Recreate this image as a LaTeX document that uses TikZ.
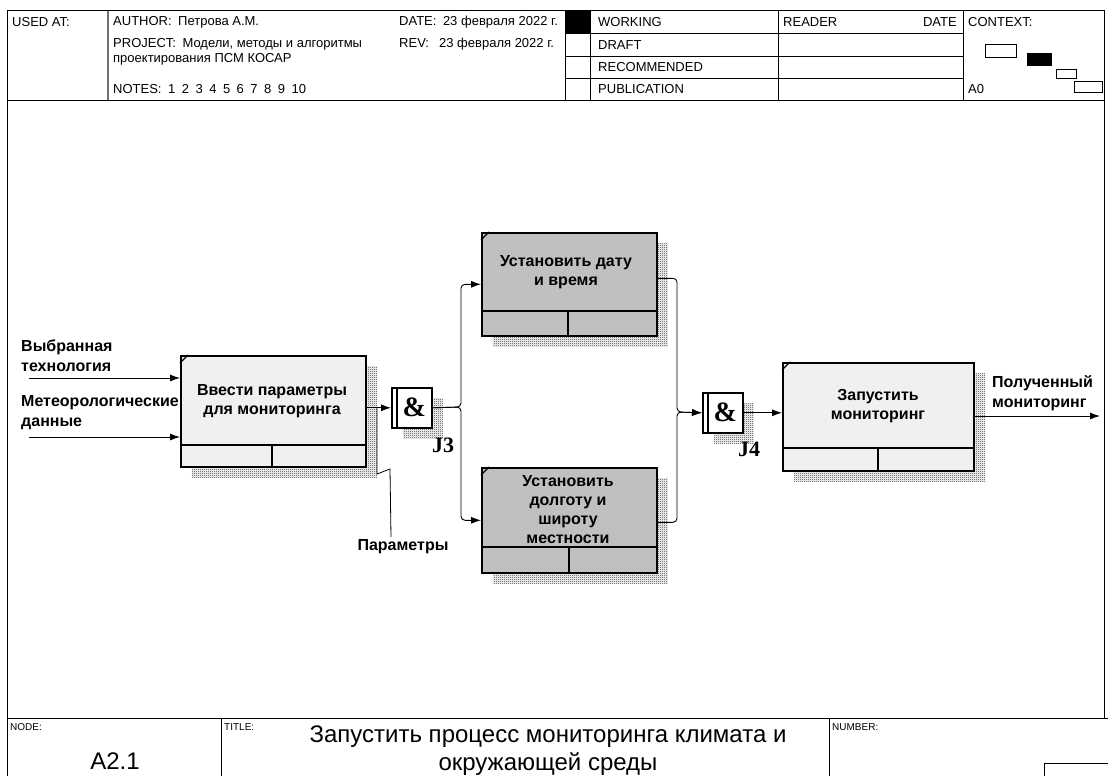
\documentclass[tikz,border=0pt]{standalone}
\usepackage{fontspec}
\setmainfont{Liberation Sans}
\newfontfamily\serifb{Liberation Serif}
\usetikzlibrary{arrows.meta,positioning,patterns,shadows}
\definecolor{svetlyj}{HTML}{F0F0F0}
\definecolor{temnyj}{HTML}{C0C0C0}
\pgfdeclarepatternformonly{shahmat}{\pgfpointorigin}{\pgfpoint{2pt}{2pt}}{\pgfpoint{2pt}{2pt}}%
  {\pgfpathrectangle{\pgfpointorigin}{\pgfpoint{1pt}{1pt}}%
   \pgfpathrectangle{\pgfpoint{1pt}{1pt}}{\pgfpoint{1pt}{1pt}}\pgfusepath{fill}}
\tikzset{strelka/.style={-{Latex[length=10pt,width=7pt]}, line width=0.9pt},
  tonkaja/.style={line width=0.8pt},
  ten/.style={general shadow={pattern=shahmat, pattern color=black!80,
    shadow xshift=11pt, shadow yshift=-11pt}},
  blok/.style={draw, line width=1.6pt, rectangle, anchor=north west, inner sep=0pt, ten},
  uzel/.style={draw, line width=1.6pt, fill=white, anchor=north west, minimum size=40pt,
    inner sep=0pt, font=\serifb\fontsize{28}{28}\selectfont\bfseries, ten},
  tekst/.style={font=\fontsize{16}{19}\selectfont\bfseries, align=center, inner sep=0pt},
  metka/.style={font=\fontsize{16}{20}\selectfont\bfseries, align=left, inner sep=0pt, anchor=west},
  jmetka/.style={font=\serifb\fontsize{22}{22}\selectfont\bfseries, inner sep=0pt},
  shapka/.style={font=\fontsize{13}{14}\selectfont, anchor=west, inner sep=0pt},
  melko/.style={font=\fontsize{10}{12}\selectfont, anchor=west, inner sep=0pt},
  krupno/.style={font=\fontsize{24}{28}\selectfont, align=center, inner sep=0pt}}
\begin{document}
\begin{tikzpicture}[x=1pt,y=-1pt]
  \useasboundingbox (0,0) rectangle (1108,776);

  %ramka
  \draw[line width=1pt] (7,776) -- (7,11) -- (1104,11) -- (1104,718);
  \draw[line width=1pt] (7,100) -- (1104,100);
  \draw[line width=1pt] (7,718) -- (1108,718);

  %shapka
  \draw[line width=1.8pt, black!55] (108,11) -- (108,100);
  \draw (565,11) -- (565,100);
  \draw (590,11) -- (590,100);
  \draw (778,11) -- (778,100);
  \draw (963,11) -- (963,100);
  \foreach \y in {33.5,56,78.5} \draw (565,\y) -- (963,\y);
  \fill (565,11) rectangle (590,33.5);
  \node[shapka] (used) at (12,22) {USED AT:};
  \node[shapka] (avtor) at (113,22) {AUTHOR:\enspace Петрова А.М.};
  \node[shapka] (data) at (399,22) {DATE:\enspace 23 февраля 2022 г.};
  \node[shapka] (proekt) at (113,44) {PROJECT:\enspace Модели, методы и алгоритмы};
  \node[shapka] (proekt2) at (113,59) {проектирования ПСМ КОСАР};
  \node[shapka] (rev) at (399,44) {REV:\enspace\ 23 февраля 2022 г.};
  \node[shapka] (notes) at (113,89) {NOTES:\enspace 1\enspace 2\enspace 3\enspace 4\enspace 5\enspace 6\enspace 7\enspace 8\enspace 9\enspace 10};
  \node[shapka] (working) at (598,22) {WORKING};
  \node[shapka] (draft) at (598,45) {DRAFT};
  \node[shapka] (recom) at (598,67) {RECOMMENDED};
  \node[shapka] (publ) at (598,89) {PUBLICATION};
  \node[shapka] (reader) at (783,22) {READER};
  \node[shapka, anchor=east] (rdata) at (957,22) {DATE};
  \node[shapka] (kontekst) at (968,22) {CONTEXT:};
  \node[shapka] (a0) at (968,89) {A0};
  \draw (985,44) rectangle (1016,57);
  \fill (1027,53) rectangle (1052,66);
  \draw (1056,69) rectangle (1076,78);
  \draw (1074,81) rectangle (1102,92);

  %podval
  \draw (221,718) -- (221,776);
  \draw (829,718) -- (829,776);
  \draw (1044,763) rectangle (1112,780);
  \node[melko] (uzelnode) at (10,727) {NODE:};
  \node[melko] (titul) at (224,727) {TITLE:};
  \node[melko] (nomer) at (832,727) {NUMBER:};
  \node[krupno] (a21) at (115,761) {A2.1};
  \node[krupno] (nazv) at (548,751) {Запустить процесс мониторинга климата и\\окружающей среды};

  %bloki
  \node[blok, fill=svetlyj, minimum width=185pt, minimum height=111pt] (a1) at (180,355) {};
  \node[blok, fill=temnyj, minimum width=175pt, minimum height=103pt] (a2) at (481,232) {};
  \node[blok, fill=temnyj, minimum width=175pt, minimum height=105pt] (a3) at (481,467) {};
  \node[blok, fill=svetlyj, minimum width=191pt, minimum height=108pt] (a4) at (782,362) {};

  %razdely
  \draw[line width=1.4pt] (180,445) -- (365,445) (272,445) -- (272,466);
  \draw[line width=1.4pt] (481,311) -- (656,311) (568,311) -- (568,335);
  \draw[line width=1.4pt] (481,547) -- (656,547) (569,547) -- (569,572);
  \draw[line width=1.4pt] (782,448) -- (973,448) (878,448) -- (878,470);
  \foreach \b in {a1,a2,a3,a4}
    \draw[line width=1.2pt] ([yshift=-8pt]\b.north west) -- ([xshift=8pt]\b.north west);

  \node[tekst] (a1t) at (272,401) {Ввести параметры\\для мониторинга};
  \node[tekst] (a2t) at (566,272) {Установить дату\\и время};
  \node[tekst] (a3t) at (568,510) {Установить\\долготу и\\широту\\местности};
  \node[tekst] (a4t) at (878,406) {Запустить\\мониторинг};

  %uzly
  \node[uzel] (j3) at (391,387) {\hspace{5pt}\&};
  \node[uzel] (j4) at (702,392) {\hspace{5pt}\&};
  \draw[line width=1.2pt] ([xshift=6pt]j3.north west) -- ([xshift=6pt]j3.south west);
  \draw[line width=1.2pt] ([xshift=6pt]j4.north west) -- ([xshift=6pt]j4.south west);
  \node[jmetka] (j3m) at (443,445) {J3};
  \node[jmetka] (j4m) at (749,449) {J4};

  %metki
  \node[metka] (vybr) at (21,356) {Выбранная\\технология};
  \node[metka] (meteo) at (21,413) {Метеорологические\\данные};
  \node[metka] (poluch) at (992,393) {Полученный\\мониторинг};
  \node[tekst] (param) at (403,547) {Параметры};

  \coordinate (v1) at (29,378);
  \coordinate (v2) at (29,437);
  \coordinate (vyh) at (1100,416);
  \coordinate (r3) at (461,407);
  \coordinate (r4) at (677,412);
  \coordinate (pk) at (391,537);

  %strelki
  \draw[strelka] (v1) -- (v1 -| a1.west);
  \draw[strelka] (v2) -- (v2 -| a1.west);
  \draw[strelka] (a1.east |- j3.west) -- (j3.west);
  \draw[strelka, rounded corners=4pt] (j3.east) -- (r3) -- (r3 |- a2.west) -- (a2.west);
  \draw[strelka, rounded corners=4pt] (j3.east) -- (r3) -- (r3 |- a3.west) -- (a3.west);
  \draw[strelka, rounded corners=4pt] ([yshift=6pt]a2.east) -| (r4) -- (j4.west);
  \draw[strelka, rounded corners=4pt] ([yshift=-2pt]a3.east) -| (r4) -- (j4.west);
  \draw[strelka] (j4.east) -- (j4.east -| a4.west);
  \draw[strelka] (a4.east |- vyh) -- (vyh);
  \draw[tonkaja] (j3.west -| 377,0) -- (377,474) -- (390,469) -- (pk);
\end{tikzpicture}
\end{document}
